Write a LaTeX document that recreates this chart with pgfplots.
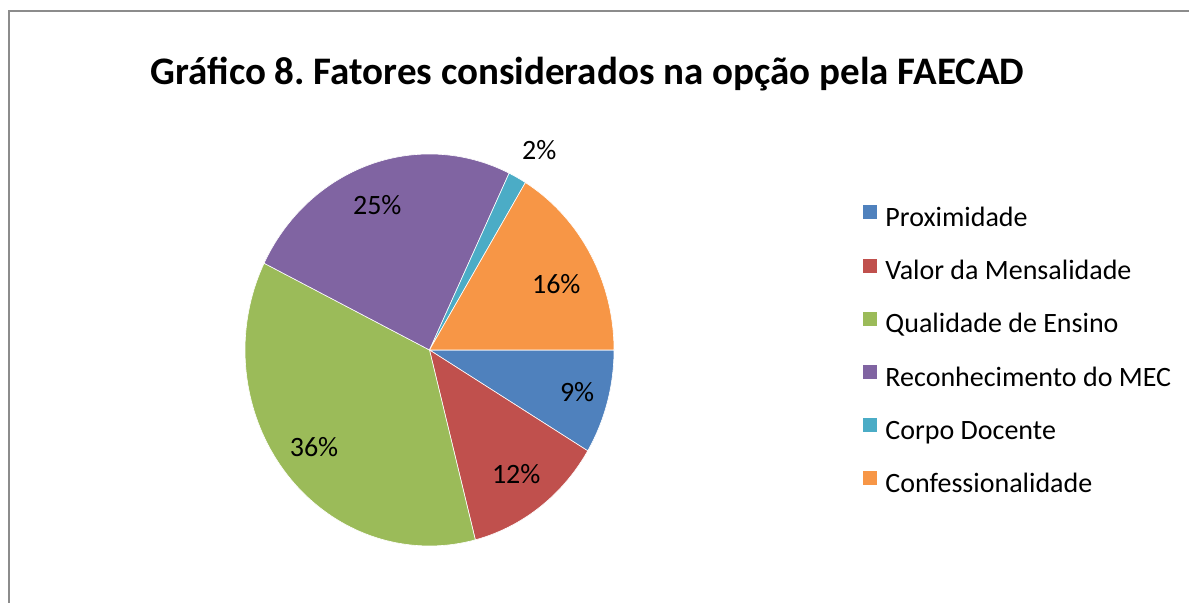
\documentclass[border=0pt]{standalone}
\usepackage{fontspec}
\setmainfont{Carlito}
\usepackage{pgfplots}
\pgfplotsset{compat=1.18}

\definecolor{cProx}{HTML}{4F81BD}
\definecolor{cValor}{HTML}{C0504D}
\definecolor{cQual}{HTML}{9BBB59}
\definecolor{cMEC}{HTML}{8064A2}
\definecolor{cCorpo}{HTML}{4BACC6}
\definecolor{cConf}{HTML}{F79646}
\definecolor{frame}{HTML}{8C8C8C}

% shares (percent)
\def\vA{8.6}  % Proximidade
\def\vB{12.4} % Valor da Mensalidade
\def\vC{36.3} % Qualidade de Ensino
\def\vD{24.8} % Reconhecimento do MEC
\def\vE{1.6}  % Corpo Docente
\def\vF{16.3} % Confessionalidade

\newcommand{\lbl}{\fontsize{14pt}{17pt}\selectfont}

\begin{document}
\frenchspacing
\begin{tikzpicture}
\useasboundingbox (0,0) rectangle (594.5pt,301.5pt);
\fill[white] (0,0) rectangle (594.5pt,301.5pt);
\begin{scope}
  \clip (0,0) rectangle (594.5pt,301.5pt);
  \draw[line width=1.25pt, color=frame] (4.5pt,-10pt) -- (4.5pt,296pt) -- (610pt,296pt);
\end{scope}
\begin{axis}[
    at={(214.75pt,126.5pt)}, anchor=origin,
    x=92.25pt, y=98pt,
    xmin=-1, xmax=1, ymin=-1, ymax=1,
    hide axis, clip=false,
    samples=80,
    title={Gráfico 8. Fatores considerados na opção pela FAECAD},
    title style={at={(0.928,1.176)}, anchor=base, inner sep=0pt, yshift=-6pt,
      font=\fontsize{19.5pt}{23pt}\selectfont\bfseries},
    legend cell align=left,
    legend image code/.code={\fill[#1, draw=none] (0pt,0pt) rectangle (7pt,7pt);},
    legend style={draw=none, fill=none, at={(1.675,0.495)}, anchor=west,
      inner sep=0pt, row sep=13.1pt, font=\lbl,
      nodes={text height=10pt, text depth=3pt, inner sep=0pt},
      /tikz/every odd column/.append style={column sep=4pt}},
    every axis plot/.append style={draw=white, line width=0.3pt},
  ]
  \addplot[fill=cProx, domain={-3.6*\vA}:0]
    ({cos(x)},{sin(x)}) -- (0,0) -- cycle;
  \addlegendentry{Proximidade}
  \addplot[fill=cValor, domain={-3.6*(\vA+\vB)}:{-3.6*\vA}]
    ({cos(x)},{sin(x)}) -- (0,0) -- cycle;
  \addlegendentry{Valor da Mensalidade}
  \addplot[fill=cQual, domain={-3.6*(\vA+\vB+\vC)}:{-3.6*(\vA+\vB)}]
    ({cos(x)},{sin(x)}) -- (0,0) -- cycle;
  \addlegendentry{Qualidade de Ensino}
  \addplot[fill=cMEC, domain={-3.6*(\vA+\vB+\vC+\vD)}:{-3.6*(\vA+\vB+\vC)}]
    ({cos(x)},{sin(x)}) -- (0,0) -- cycle;
  \addlegendentry{Reconhecimento do MEC}
  \addplot[fill=cCorpo, domain={-3.6*(\vA+\vB+\vC+\vD+\vE)}:{-3.6*(\vA+\vB+\vC+\vD)}]
    ({cos(x)},{sin(x)}) -- (0,0) -- cycle;
  \addlegendentry{Corpo Docente}
  \addplot[fill=cConf, domain=-360:{-3.6*(\vA+\vB+\vC+\vD+\vE)}]
    ({cos(x)},{sin(x)}) -- (0,0) -- cycle;
  \addlegendentry{Confessionalidade}

  \node[font=\lbl] at (axis cs:0.800,-0.214) {9\%};
  \node[font=\lbl] at (axis cs:0.470,-0.634) {12\%};
  \node[font=\lbl] at (axis cs:-0.626,-0.496) {36\%};
  \node[font=\lbl] at (axis cs:-0.283,0.740) {25\%};
  \node[font=\lbl] at (axis cs:0.595,1.022) {2\%};
  \node[font=\lbl] at (axis cs:0.687,0.338) {16\%};
\end{axis}
\end{tikzpicture}
\end{document}
